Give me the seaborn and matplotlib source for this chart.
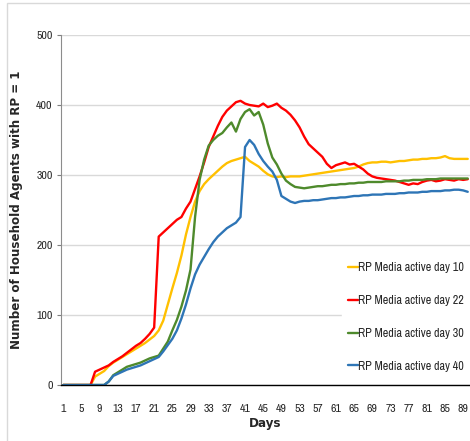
import numpy as np
import pandas as pd
import matplotlib
matplotlib.use("Agg")
import matplotlib.pyplot as plt
from matplotlib import font_manager as fm
from matplotlib.patches import Rectangle
import seaborn as sns

days = list(range(1, 91))

# RP media active day 10 (yellow)
day10 = [0, 0, 0, 0, 0, 0, 0, 12, 16, 20,
         27, 32, 36, 40, 44, 48, 52, 56, 60, 65,
         70, 78, 92, 115, 138, 160, 185, 215, 240, 262,
         277, 287, 294, 300, 306, 312, 317, 320, 322, 324,
         326, 320, 316, 312, 306, 301, 298, 297, 298, 297,
         298, 298, 298, 299, 300, 301, 302, 303, 304, 305,
         306, 307, 308, 309, 310, 312, 315, 317, 318, 318,
         319, 319, 318, 319, 320, 320, 321, 322, 322, 323,
         323, 324, 324, 325, 327, 324, 323, 323, 323, 323]

# RP media active day 22 (red)
day22 = [0, 0, 0, 0, 0, 0, 0, 19, 22, 25,
         28, 33, 37, 41, 46, 51, 56, 60, 66, 73,
         82, 212, 218, 224, 230, 236, 240, 252, 262, 280,
         298, 318, 340, 355, 370, 383, 392, 398, 404, 406,
         402, 400, 399, 398, 402, 397, 399, 402, 396, 392,
         386, 378, 368, 355, 344, 338, 332, 326, 316, 310,
         314, 316, 318, 315, 316, 312, 308, 302, 298, 296,
         295, 294, 293, 292, 290, 288, 286, 288, 287, 290,
         292, 293, 291, 292, 294, 293, 292, 294, 293, 294]

# RP media active day 30 (green)
day30 = [0, 0, 0, 0, 0, 0, 0, 0, 0, 0,
         5, 14, 18, 22, 26, 28, 30, 32, 35, 38,
         40, 42, 52, 62, 78, 93, 112, 135, 165, 240,
         293, 322, 342, 350, 356, 360, 368, 375, 362, 380,
         390, 394, 385, 390, 372, 345, 325, 315, 302, 292,
         287, 283, 282, 281, 282, 283, 284, 284, 285, 286,
         286, 287, 287, 288, 288, 289, 289, 290, 290, 290,
         290, 291, 291, 291, 291, 292, 292, 293, 293, 293,
         294, 294, 294, 295, 295, 295, 295, 295, 295, 295]

# RP media active day 40 (blue)
day40 = [0, 0, 0, 0, 0, 0, 0, 0, 0, 0,
         5, 13, 16, 19, 22, 24, 26, 28, 31, 34,
         37, 40, 48, 57, 66, 78, 95, 115, 138, 158,
         172, 183, 194, 204, 212, 218, 224, 228, 232, 240,
         340, 350, 343, 330, 320, 312, 305, 293, 270, 266,
         262, 260, 262, 263, 263, 264, 264, 265, 266, 267,
         267, 268, 268, 269, 270, 270, 271, 271, 272, 272,
         272, 273, 273, 273, 274, 274, 275, 275, 275, 276,
         276, 277, 277, 277, 278, 278, 279, 279, 278, 276]

labels = ["RP Media active day 10", "RP Media active day 22",
          "RP Media active day 30", "RP Media active day 40"]
colors = ["#FFC000", "#FF0000", "#4E8A2C", "#2E75B6"]

df = pd.DataFrame({
    "Days": days * 4,
    "Agents": day10 + day22 + day30 + day40,
    "Series": sum([[lab] * len(days) for lab in labels], []),
})

installed = {f.name for f in fm.fontManager.ttflist}
narrow = next((n for n in ["Archivo Narrow", "Liberation Sans Narrow", "Carlito",
                           "Barlow Semi Condensed"] if n in installed), "DejaVu Sans")

sns.set_style("white")
plt.rcParams["font.family"] = [narrow, "DejaVu Sans"]

fig = plt.figure(figsize=(4.70, 4.41), dpi=100)
ax = fig.add_axes([61 / 470, 1 - 385 / 441, 409 / 470, 350 / 441])

sns.lineplot(data=df, x="Days", y="Agents", hue="Series", palette=colors,
             linewidth=1.7, ax=ax, legend=True)

ax.set_xlim(0.5, 90.5)
ax.set_ylim(0, 500)
ax.set_yticks(range(0, 501, 100))
ax.set_xticks(range(1, 90, 4))
ax.set_xticks(np.arange(0.5, 91, 5), minor=True)
ax.tick_params(axis="x", which="major", length=0, labelsize=8.5, pad=14)
ax.tick_params(axis="x", which="minor", length=4, color="#7f7f7f", width=0.8)
ax.tick_params(axis="y", length=3, color="#7f7f7f", labelsize=8.5, pad=3, left=True)
ax.grid(axis="y", color="#d9d9d9", linewidth=1)
ax.set_axisbelow(True)
for s in ["top", "right"]:
    ax.spines[s].set_visible(False)
ax.spines["left"].set_color("#8c8c8c")
ax.spines["bottom"].set_color("#000000")
ax.spines["bottom"].set_linewidth(1)

ax.set_xlabel("Days", fontsize=9.5, fontweight="bold", family="DejaVu Sans",
              fontstretch="condensed", labelpad=2)
ax.set_ylabel("Number of Household Agents with RP = 1", fontsize=8.6,
              fontweight="bold", family="DejaVu Sans")
ax.yaxis.set_label_coords(-0.093, 0.5)

leg = ax.legend(loc="upper left", bbox_to_anchor=(0.672, 0.385), frameon=True,
                fontsize=8.7, handlelength=0.8, handletextpad=0.05,
                labelspacing=1.8, borderpad=0.5, fancybox=False)
leg.get_frame().set_edgecolor("white")
leg.get_frame().set_facecolor("white")
leg.get_frame().set_alpha(1)

fig.patches.append(Rectangle((7 / 470, -0.1), 1.2, 1.1 - 3 / 441, transform=fig.transFigure,
                             fill=False, edgecolor="#d9d9d9", linewidth=1))

fig.savefig("out.png", dpi=100)
